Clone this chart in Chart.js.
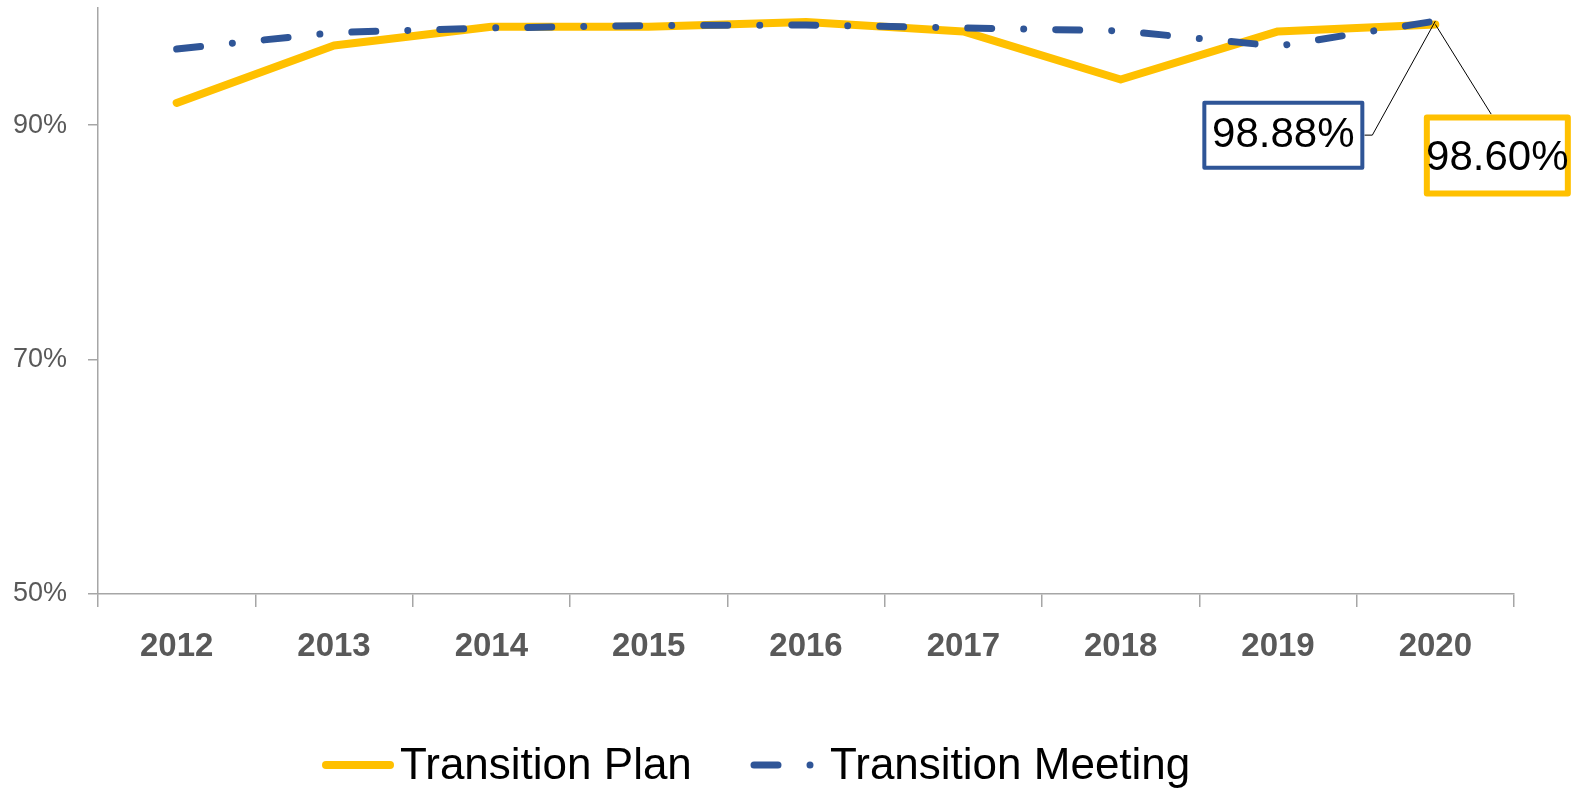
<!DOCTYPE html>
<html>
<head>
<meta charset="utf-8">
<script src="https://cdn.jsdelivr.net/npm/chart.js@4"></script>
<style>
  html, body { margin: 0; padding: 0; background: #fff; }
  #wrap { width: 1574px; height: 789px; position: relative; }
</style>
</head>
<body>
<div id="wrap"><canvas id="chart"></canvas></div>
<script>
// ---------- data ----------
const YEARS = ["2012", "2013", "2014", "2015", "2016", "2017", "2018", "2019", "2020"];
const PLAN = [91.9, 96.8, 98.4, 98.4, 98.8, 98.0, 93.9, 98.0, 98.60];
const MEETING = [96.5, 97.9, 98.3, 98.5, 98.55, 98.3, 98.05, 96.75, 98.88];
const Y_TICKS = [50, 70, 90];

const YELLOW = "#ffc000";
const BLUE = "#2f5597";
const AXIS = "#a6a6a6";
const TICK_TEXT = "#595959";

// ---------- plugins ----------
// callout boxes for the last point of each line
const calloutPlugin = {
  id: "callouts",
  afterDatasetsDraw(chart) {
    const ctx = chart.ctx;
    const boxes = [
      { ds: 1, dx: -152, dy: 114, w: 162, h: 69, bw: 4, textDy: 0, color: BLUE, elbow: true },
      { ds: 0, dx: 62, dy: 131, w: 147, h: 82, bw: 6, textDy: 3, color: YELLOW, elbow: false },
    ];
    for (const b of boxes) {
      const meta = chart.getDatasetMeta(b.ds);
      const pt = meta.data[meta.data.length - 1];
      const val = chart.data.datasets[b.ds].data[meta.data.length - 1];
      const cx = pt.x + b.dx;
      const cy = pt.y + b.dy;
      const left = cx - b.w / 2, top = cy - b.h / 2;

      ctx.save();
      // leader line
      ctx.strokeStyle = "#000";
      ctx.lineWidth = 1;
      ctx.beginPath();
      if (b.elbow) {
        ctx.moveTo(pt.x, pt.y);
        ctx.lineTo(left + b.w + 8, cy);
        ctx.lineTo(left + b.w, cy);
      } else {
        ctx.moveTo(pt.x, pt.y);
        ctx.lineTo(cx - 6, top);
      }
      ctx.stroke();

      // box
      ctx.fillStyle = "#fff";
      ctx.fillRect(left, top, b.w, b.h);
      ctx.strokeStyle = b.color;
      ctx.lineWidth = b.bw;
      ctx.lineJoin = "round";
      ctx.strokeRect(left + b.bw / 2, top + b.bw / 2, b.w - b.bw, b.h - b.bw);

      ctx.fillStyle = "#000";
      ctx.font = "42px 'Liberation Sans', Arial, sans-serif";
      ctx.textAlign = "center";
      ctx.textBaseline = "middle";
      ctx.fillText(val.toFixed(2) + "%", cx, cy + b.textDy);
      ctx.restore();
    }
  },
};

// legend drawn under the axis, styles read from the datasets
const legendPlugin = {
  id: "lineLegend",
  afterDraw(chart) {
    const ctx = chart.ctx;
    const y = 765;
    const items = [
      { ds: 0, x: 326, len: 64, textX: 400 },
      { ds: 1, x: 754, len: 58, textX: 830 },
    ];
    ctx.save();
    for (const it of items) {
      const d = chart.data.datasets[it.ds];
      ctx.strokeStyle = d.borderColor;
      ctx.lineWidth = d.borderWidth;
      ctx.lineCap = "round";
      ctx.setLineDash(d.borderDash || []);
      ctx.beginPath();
      ctx.moveTo(it.x, y);
      ctx.lineTo(it.x + it.len, y);
      ctx.stroke();
      ctx.setLineDash([]);
      ctx.fillStyle = "#000";
      ctx.font = "44px 'Liberation Sans', Arial, sans-serif";
      ctx.textAlign = "left";
      ctx.textBaseline = "middle";
      ctx.fillText(d.label, it.textX, y + 2);
    }
    ctx.restore();
  },
};

// ---------- chart ----------
function buildChart() {
  const ctx = document.getElementById("chart").getContext("2d");
  return new Chart(ctx, {
    type: "line",
    data: {
      labels: YEARS,
      datasets: [
        {
          label: "Transition Plan",
          data: PLAN,
          borderColor: YELLOW,
          backgroundColor: YELLOW,
          borderWidth: 8,
          borderCapStyle: "round",
          borderJoinStyle: "round",
          pointRadius: 0,
          tension: 0,
          order: 1,
        },
        {
          label: "Transition Meeting",
          data: MEETING,
          borderColor: BLUE,
          backgroundColor: BLUE,
          borderWidth: 7,
          borderDash: [24, 32, 0.001, 32],
          borderCapStyle: "round",
          borderJoinStyle: "round",
          pointRadius: 0,
          tension: 0,
          order: 0,
        },
      ],
    },
    options: {
      responsive: true,
      maintainAspectRatio: false,
      animation: false,
      layout: { padding: { top: 8, right: 60, left: 0, bottom: 0 } },
      plugins: {
        legend: { display: false },
        tooltip: { enabled: false },
      },
      scales: {
        x: {
          offset: true,
          grid: {
            offset: true,
            drawOnChartArea: false,
            tickLength: 13,
            color: AXIS,
            lineWidth: 1.5,
          },
          border: { color: AXIS, width: 1.5 },
          ticks: {
            color: TICK_TEXT,
            padding: 20,
            font: { family: "'Liberation Sans', Arial, sans-serif", size: 33, weight: "bold" },
          },
          afterFit: (s) => { s.height = 195; s.paddingLeft = 0; s.paddingRight = 0; },
        },
        y: {
          min: 50,
          max: 100,
          afterBuildTicks: (s) => { s.ticks = Y_TICKS.map((v) => ({ value: v })); },
          grid: {
            drawOnChartArea: false,
            tickLength: 10,
            color: AXIS,
            lineWidth: 1.5,
          },
          border: { color: AXIS, width: 1.5 },
          ticks: {
            color: TICK_TEXT,
            padding: 21,
            font: { family: "'Liberation Sans', Arial, sans-serif", size: 27 },
            callback: (v) => v + "%",
          },
          afterFit: (s) => { s.width = 98; s.paddingTop = 0; s.paddingBottom = 0; },
        },
      },
    },
    plugins: [calloutPlugin, legendPlugin],
  });
}

window.addEventListener("DOMContentLoaded", () => {
  buildChart();
});
</script>
</body>
</html>
